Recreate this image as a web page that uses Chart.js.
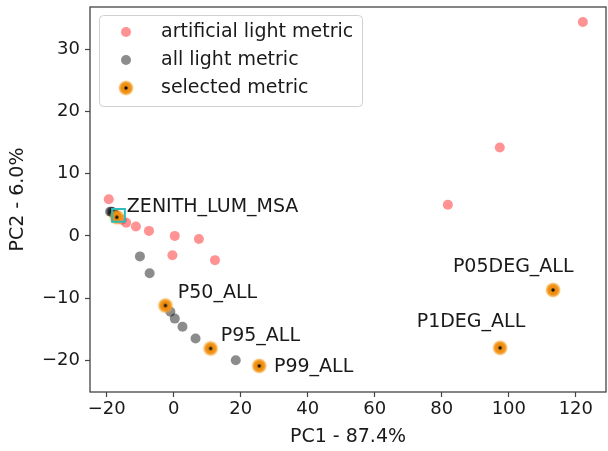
<!DOCTYPE html>
<html lang="en">
<head>
<meta charset="UTF-8">
<title>PCA of light metrics</title>
<script src="https://cdn.jsdelivr.net/npm/chart.js"></script>
<style>
  html, body { margin: 0; padding: 0; background: #fff; }
  #wrap { width: 608px; height: 451px; }
</style>
</head>
<body>
<div id="wrap"><canvas id="pca"></canvas></div>
<script>
// values (PC1, PC2)
const artificialX = [-19.4, -15.5, -14.2, -11.3, -7.4, 0.3, 7.5, -0.4, 12.3, 81.8, 97.3, 122.1];
const artificialY = [5.9, 2.6, 2.1, 1.5, 0.8, 0.0, -0.5, -3.1, -3.9, 5.0, 14.2, 34.4];

const allLightX = [-19.0, -18.6, -18.2, -17.8, -17.4, -10.1, -7.2, -1.0, 0.3, 2.6, 6.5, 18.5];
const allLightY = [3.9, 3.9, 3.8, 3.6, 3.4, -3.3, -6.0, -12.2, -13.3, -14.6, -16.5, -20.0];

const selectedNames = ['ZENITH_LUM_MSA', 'P50_ALL', 'P95_ALL', 'P99_ALL', 'P05DEG_ALL', 'P1DEG_ALL'];
const selectedX = [-17.0, -2.5, 11.0, 25.5, 113.2, 97.4];
const selectedY = [3.0, -11.2, -18.1, -20.9, -8.7, -18.0];
// where each name is written (left edge, vertical middle), data units
const labelX = [-14.0, 1.2, 14.0, 29.9, 83.3, 72.5];
const labelY = [4.7, -9.2, -16.1, -21.1, -5.0, -13.9];

const highlightX = [-16.5];
const highlightY = [3.3];

const xTicks = [-20, 0, 20, 40, 60, 80, 100, 120];
const yTicks = [-20, -10, 0, 10, 20, 30];

const FONT = "'DejaVu Sans', sans-serif";
const TEXT = '#1a1a1a';
const AXIS = '#444';

function toPoints(xs, ys) {
    return xs.map((x, i) => ({ x: x, y: ys[i] }));
}

// orange blurred dot with a small black centre
function selectedMarker() {
    const c = document.createElement('canvas');
    c.width = 18; c.height = 18;
    const g = c.getContext('2d');
    const grad = g.createRadialGradient(9, 9, 0, 9, 9, 8);
    grad.addColorStop(0, 'rgba(235,135,10,1)');
    grad.addColorStop(0.6, 'rgba(240,145,20,1)');
    grad.addColorStop(0.8, 'rgba(245,160,40,0.75)');
    grad.addColorStop(1, 'rgba(250,180,80,0)');
    g.fillStyle = grad;
    g.beginPath(); g.arc(9, 9, 8, 0, Math.PI * 2); g.fill();
    g.fillStyle = '#111';
    g.beginPath(); g.arc(9, 9, 1.7, 0, Math.PI * 2); g.fill();
    return c;
}
const selImg = selectedMarker();

const frame = {
    id: 'frame',
    afterDatasetsDraw(chart) {
        const a = chart.chartArea, ctx = chart.ctx;
        ctx.save();
        ctx.strokeStyle = AXIS;
        ctx.lineWidth = 1.3;
        ctx.strokeRect(a.left, a.top, a.right - a.left, a.bottom - a.top);
        ctx.restore();
    }
};

const nameLabels = {
    id: 'nameLabels',
    afterDatasetsDraw(chart) {
        const ctx = chart.ctx, sx = chart.scales.x, sy = chart.scales.y;
        ctx.save();
        ctx.font = '19px ' + FONT;
        ctx.fillStyle = TEXT;
        ctx.textAlign = 'left';
        ctx.textBaseline = 'middle';
        selectedNames.forEach((n, i) => {
            ctx.fillText(n, sx.getPixelForValue(labelX[i]), sy.getPixelForValue(labelY[i]));
        });
        ctx.restore();
    }
};

// legend box inside the plot, upper left
const boxLegend = {
    id: 'boxLegend',
    afterDraw(chart) {
        const ctx = chart.ctx;
        const items = [0, 1, 2].map(i => chart.data.datasets[i]);
        const x0 = 99, y0 = 15, w = 263, h = 91;
        ctx.save();
        ctx.fillStyle = 'rgba(255,255,255,0.8)';
        ctx.strokeStyle = '#d0d0d0';
        ctx.lineWidth = 1;
        ctx.beginPath();
        ctx.roundRect(x0 + 0.5, y0 + 0.5, w, h, 4);
        ctx.fill(); ctx.stroke();
        ctx.font = '19px ' + FONT;
        ctx.textBaseline = 'middle';
        items.forEach((ds, k) => {
            const y = y0 + 17 + k * 28;
            ctx.fillStyle = ds.backgroundColor;
            Chart.helpers.drawPoint(ctx, {
                pointStyle: ds.pointStyle, radius: ds.pointRadius, rotation: 0, borderWidth: 0
            }, x0 + 27, y);
            ctx.fillStyle = TEXT;
            ctx.fillText(ds.label, x0 + 62, y);
        });
        ctx.restore();
    }
};

const tickStyle = {
    font: { family: FONT, size: 18 },
    color: TEXT,
    callback: v => String(v).replace('-', '\u2212')
};

new Chart(document.getElementById('pca'), {
    type: 'scatter',
    data: {
        datasets: [
            {
                label: 'artificial light metric',
                data: toPoints(artificialX, artificialY),
                backgroundColor: 'rgba(255,40,40,0.5)',
                pointStyle: 'circle', pointRadius: 5, borderWidth: 0, order: 4
            },
            {
                label: 'all light metric',
                data: toPoints(allLightX, allLightY),
                backgroundColor: 'rgba(0,0,0,0.45)',
                pointStyle: 'circle', pointRadius: 5, borderWidth: 0, order: 3
            },
            {
                label: 'selected metric',
                data: toPoints(selectedX, selectedY),
                backgroundColor: 'rgba(240,145,20,1)',
                pointStyle: selImg, pointRadius: 9, borderWidth: 0, order: 2
            },
            {
                label: 'highlight',
                data: toPoints(highlightX, highlightY),
                backgroundColor: 'rgba(0,0,0,0)',
                borderColor: '#2cbcbc', borderWidth: 2,
                pointStyle: 'rect', pointRadius: 9, order: 1
            }
        ]
    },
    options: {
        responsive: true,
        maintainAspectRatio: false,
        animation: false,
        devicePixelRatio: 1,
        layout: { autoPadding: false, padding: { top: 7, right: 2, left: 0, bottom: 0 } },
        plugins: { legend: { display: false }, tooltip: { enabled: false } },
        scales: {
            x: {
                type: 'linear', min: -25, max: 129,
                afterBuildTicks: s => { s.ticks = xTicks.map(v => ({ value: v })); },
                afterFit: s => { s.height = 59; s.paddingLeft = 0; s.paddingRight = 0; },
                ticks: Object.assign({ padding: 2, maxRotation: 0 }, tickStyle),
                grid: { drawOnChartArea: false, drawTicks: true, tickLength: 5, tickColor: AXIS, tickWidth: 1.2 },
                border: { display: false },
                title: { display: true, text: 'PC1 - 87.4%', color: TEXT,
                         font: { family: FONT, size: 19 }, padding: { top: 0, bottom: 3 } }
            },
            y: {
                type: 'linear', min: -25.1, max: 36.8,
                afterBuildTicks: s => { s.ticks = yTicks.map(v => ({ value: v })); },
                afterFit: s => { s.width = 90; s.paddingTop = 0; s.paddingBottom = 0; },
                ticks: Object.assign({ padding: 5 }, tickStyle),
                grid: { drawOnChartArea: false, drawTicks: true, tickLength: 5, tickColor: AXIS, tickWidth: 1.2 },
                border: { display: false },
                title: { display: true, text: 'PC2 - 6.0%', color: TEXT,
                         font: { family: FONT, size: 19 }, padding: { top: 7, bottom: 0 } }
            }
        }
    },
    plugins: [frame, nameLabels, boxLegend]
});
</script>
</body>
</html>
